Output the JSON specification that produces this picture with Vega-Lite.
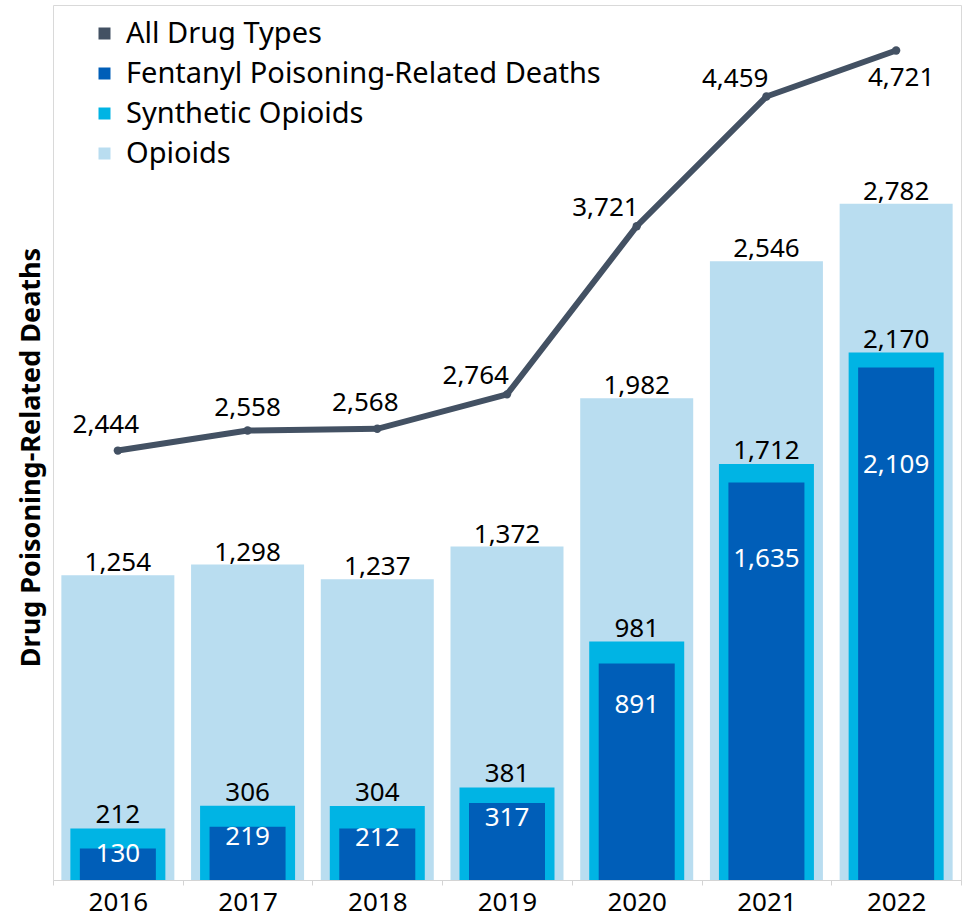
{
  "$schema": "https://vega.github.io/schema/vega-lite/v6.json",
  "width": 908,
  "height": 875,
  "autosize": {"type": "none"},
  "padding": {"left": 53, "top": 5, "right": 3, "bottom": 37},
  "background": "white",
  "config": {
    "font": "Noto Sans",
    "view": {"stroke": "#d9d9d9"},
    "text": {"font": "Noto Sans"}
  },
  "data": {
    "values": [
      {"year": "2016", "type": "Opioids", "deaths": 1254},
      {"year": "2017", "type": "Opioids", "deaths": 1298},
      {"year": "2018", "type": "Opioids", "deaths": 1237},
      {"year": "2019", "type": "Opioids", "deaths": 1372},
      {"year": "2020", "type": "Opioids", "deaths": 1982},
      {"year": "2021", "type": "Opioids", "deaths": 2546},
      {"year": "2022", "type": "Opioids", "deaths": 2782},
      {"year": "2016", "type": "Synthetic Opioids", "deaths": 212},
      {"year": "2017", "type": "Synthetic Opioids", "deaths": 306},
      {"year": "2018", "type": "Synthetic Opioids", "deaths": 304},
      {"year": "2019", "type": "Synthetic Opioids", "deaths": 381},
      {"year": "2020", "type": "Synthetic Opioids", "deaths": 981},
      {"year": "2021", "type": "Synthetic Opioids", "deaths": 1712},
      {"year": "2022", "type": "Synthetic Opioids", "deaths": 2170},
      {"year": "2016", "type": "Fentanyl Poisoning-Related Deaths", "deaths": 130},
      {"year": "2017", "type": "Fentanyl Poisoning-Related Deaths", "deaths": 219},
      {"year": "2018", "type": "Fentanyl Poisoning-Related Deaths", "deaths": 212},
      {"year": "2019", "type": "Fentanyl Poisoning-Related Deaths", "deaths": 317},
      {"year": "2020", "type": "Fentanyl Poisoning-Related Deaths", "deaths": 891},
      {"year": "2021", "type": "Fentanyl Poisoning-Related Deaths", "deaths": 1635},
      {"year": "2022", "type": "Fentanyl Poisoning-Related Deaths", "deaths": 2109},
      {"year": "2016", "type": "All Drug Types", "deaths": 2444},
      {"year": "2017", "type": "All Drug Types", "deaths": 2558},
      {"year": "2018", "type": "All Drug Types", "deaths": 2568},
      {"year": "2019", "type": "All Drug Types", "deaths": 2764},
      {"year": "2020", "type": "All Drug Types", "deaths": 3721},
      {"year": "2021", "type": "All Drug Types", "deaths": 4459},
      {"year": "2022", "type": "All Drug Types", "deaths": 4721}
    ]
  },
  "encoding": {
    "x": {
      "field": "year",
      "type": "ordinal",
      "scale": {"paddingInner": 0, "paddingOuter": 0},
      "axis": {
        "title": null,
        "labelFontSize": 26,
        "labelColor": "black",
        "labelFont": "Noto Sans",
        "labelAngle": 0,
        "domainColor": "#d4d4d4",
        "tickColor": "#d4d4d4",
        "tickSize": 5,
        "tickBand": "extent",
        "labelPadding": 4,
        "grid": false
      }
    }
  },
  "layer": [
    {
      "encoding": {
        "y": {
          "field": "deaths",
          "type": "quantitative",
          "scale": {"domain": [0, 3600], "nice": false},
          "axis": {
            "title": "Drug Poisoning-Related Deaths",
            "labels": false,
            "ticks": false,
            "domain": false,
            "grid": false,
            "titleFontSize": 27,
            "titleFont": "Noto Sans",
            "titleFontWeight": "bold",
            "titleColor": "black",
            "titlePadding": 8,
            "titleY": 452
          }
        }
      },
      "layer": [
        {
          "transform": [{"filter": "datum.type === 'Opioids'"}],
          "mark": {"type": "bar", "width": 113},
          "encoding": {
            "color": {
              "field": "type",
              "type": "nominal",
              "scale": {
                "domain": ["All Drug Types", "Fentanyl Poisoning-Related Deaths", "Synthetic Opioids", "Opioids"],
                "range": ["#435163", "#005EB8", "#00B4E4", "#B9DDF0"]
              },
              "legend": {
                "orient": "none",
                "legendX": 37,
                "legendY": 14,
                "title": null,
                "symbolType": "square",
                "symbolSize": 144,
                "symbolStrokeWidth": 0,
                "labelFontSize": 29,
                "labelFont": "Noto Sans",
                "labelColor": "black",
                "labelLimit": 700,
                "rowPadding": 10,
                "labelOffset": 7,
                "padding": 0
              }
            }
          }
        },
        {
          "transform": [{"filter": "datum.type === 'Synthetic Opioids'"}],
          "mark": {"type": "bar", "width": 95},
          "encoding": {"color": {"field": "type", "type": "nominal"}}
        },
        {
          "transform": [{"filter": "datum.type === 'Fentanyl Poisoning-Related Deaths'"}],
          "mark": {"type": "bar", "width": 76},
          "encoding": {"color": {"field": "type", "type": "nominal"}}
        },
        {
          "transform": [{"filter": "datum.type === 'Opioids'"}],
          "mark": {"type": "text", "fontSize": 26, "color": "black", "baseline": "alphabetic", "dy": -4},
          "encoding": {"text": {"field": "deaths", "type": "quantitative", "format": ","}}
        },
        {
          "transform": [{"filter": "datum.type === 'Synthetic Opioids'"}],
          "mark": {"type": "text", "fontSize": 26, "color": "black", "baseline": "alphabetic", "dy": -5},
          "encoding": {"text": {"field": "deaths", "type": "quantitative", "format": ","}}
        }
      ]
    },
    {
      "transform": [{"filter": "datum.type === 'Fentanyl Poisoning-Related Deaths'"}],
      "mark": {"type": "text", "fontSize": 26, "color": "white", "baseline": "middle"},
      "encoding": {
        "y": {"field": "deaths", "type": "quantitative", "scale": {"domain": [0, 4450], "nice": false}, "axis": null},
        "text": {"field": "deaths", "type": "quantitative", "format": ","}
      }
    },
    {
      "transform": [{"filter": "datum.type === 'All Drug Types'"}],
      "encoding": {
        "y": {"field": "deaths", "type": "quantitative", "scale": {"domain": [0, 4980], "nice": false}, "axis": null}
      },
      "layer": [
        {"mark": {"type": "line", "color": "#435163", "strokeWidth": 6}},
        {"mark": {"type": "point", "filled": true, "color": "#435163", "size": 70, "opacity": 1}},
        {
          "transform": [{"filter": "datum.year === '2016' || datum.year === '2018'"}],
          "mark": {"type": "text", "fontSize": 26, "color": "black", "baseline": "alphabetic", "dx": -12, "dy": -18},
          "encoding": {"text": {"field": "deaths", "type": "quantitative", "format": ","}}
        },
        {
          "transform": [{"filter": "datum.year === '2017'"}],
          "mark": {"type": "text", "fontSize": 26, "color": "black", "baseline": "alphabetic", "dy": -15},
          "encoding": {"text": {"field": "deaths", "type": "quantitative", "format": ","}}
        },
        {
          "transform": [{"filter": "datum.year === '2019' || datum.year === '2020' || datum.year === '2021'"}],
          "mark": {"type": "text", "fontSize": 26, "color": "black", "baseline": "alphabetic", "align": "right", "dx": 2, "dy": -10},
          "encoding": {"text": {"field": "deaths", "type": "quantitative", "format": ","}}
        },
        {
          "transform": [{"filter": "datum.year === '2022'"}],
          "mark": {"type": "text", "fontSize": 26, "color": "black", "baseline": "top", "dx": 5, "dy": 14},
          "encoding": {"text": {"field": "deaths", "type": "quantitative", "format": ","}}
        }
      ]
    }
  ],
  "resolve": {"scale": {"y": "independent"}, "axis": {"y": "independent"}}
}
